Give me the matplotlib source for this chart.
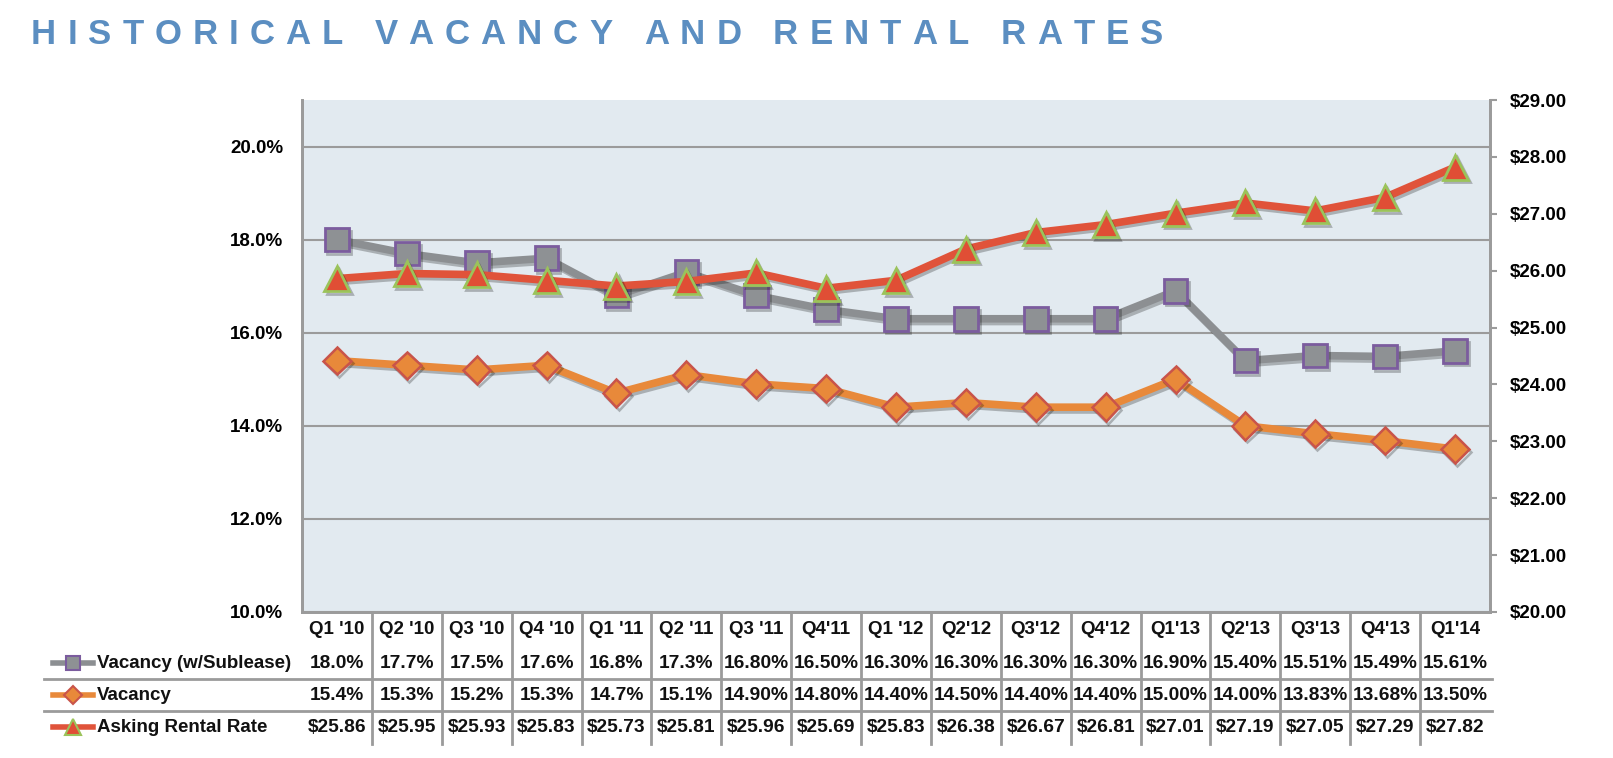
import matplotlib
matplotlib.use("Agg")
import matplotlib.pyplot as plt
import matplotlib.patheffects as pe
from matplotlib.lines import Line2D
from matplotlib import transforms
import numpy as np

plt.rcParams['font.family'] = ['Liberation Sans', 'DejaVu Sans']

trimestres = ["Q1 '10", "Q2 '10", "Q3 '10", "Q4 '10", "Q1 '11", "Q2 '11", "Q3 '11",
              "Q4'11", "Q1 '12", "Q2'12", "Q3'12", "Q4'12", "Q1'13", "Q2'13",
              "Q3'13", "Q4'13", "Q1'14"]

vacancia_sub = [18.0, 17.7, 17.5, 17.6, 16.8, 17.3, 16.80, 16.50, 16.30, 16.30,
                16.30, 16.30, 16.90, 15.40, 15.51, 15.49, 15.61]
vacancia = [15.4, 15.3, 15.2, 15.3, 14.7, 15.1, 14.90, 14.80, 14.40, 14.50,
            14.40, 14.40, 15.00, 14.00, 13.83, 13.68, 13.50]
renta = [25.86, 25.95, 25.93, 25.83, 25.73, 25.81, 25.96, 25.69, 25.83, 26.38,
         26.67, 26.81, 27.01, 27.19, 27.05, 27.29, 27.82]

# textos de la tabla tal como aparecen (formato mixto)
tabla_sub = ["18.0%", "17.7%", "17.5%", "17.6%", "16.8%", "17.3%", "16.80%", "16.50%",
             "16.30%", "16.30%", "16.30%", "16.30%", "16.90%", "15.40%", "15.51%",
             "15.49%", "15.61%"]
tabla_vac = ["15.4%", "15.3%", "15.2%", "15.3%", "14.7%", "15.1%", "14.90%", "14.80%",
             "14.40%", "14.50%", "14.40%", "14.40%", "15.00%", "14.00%", "13.83%",
             "13.68%", "13.50%"]
tabla_renta = ["$25.86", "$25.95", "$25.93", "$25.83", "$25.73", "$25.81", "$25.96",
               "$25.69", "$25.83", "$26.38", "$26.67", "$26.81", "$27.01", "$27.19",
               "$27.05", "$27.29", "$27.82"]

nombres = ["Vacancy (w/Sublease)", "Vacancy", "Asking Rental Rate"]
TITULO = "HISTORICAL VACANCY AND RENTAL RATES"

W, H = 1613, 758
fig = plt.figure(figsize=(W / 100, H / 100), dpi=100)

x0, x1, y_top, y_bot = 302, 1490, 100, 612
ax = fig.add_axes([x0 / W, 1 - y_bot / H, (x1 - x0) / W, (y_bot - y_top) / H])
ax.set_facecolor('#E2EAF0')
ax2 = ax.twinx()

GRIS = '#9B9B9B'
sombra = [pe.SimpleLineShadow(offset=(1.5, -2), alpha=0.25, shadow_color='black'),
          pe.Normal()]

n = len(trimestres)
xs = np.arange(n)

estilos = [
    dict(color='#8C8F92', marker='s', markersize=17, markerfacecolor='#8E9194',
         markeredgecolor='#7B5C9E', markeredgewidth=2, linewidth=5.5),
    dict(color='#E8893A', marker='D', markersize=14, markerfacecolor='#E8893A',
         markeredgecolor='#C9544A', markeredgewidth=1.8, linewidth=5.5),
    dict(color='#E0533A', marker='^', markersize=18, markerfacecolor='#E04E35',
         markeredgecolor='#9BC35A', markeredgewidth=2, linewidth=5.5),
]

ax.plot(xs, vacancia_sub, path_effects=sombra, zorder=3, **estilos[0])
ax.plot(xs, vacancia, path_effects=sombra, zorder=3, **estilos[1])
ax2.plot(xs, renta, path_effects=sombra, zorder=3, **estilos[2])

ax.set_xlim(-0.5, n - 0.5)
ax.set_ylim(10, 21)
ax2.set_ylim(20, 29)

ax.set_yticks(np.arange(10, 21, 2))
ax.set_yticklabels([f"{v:.1f}%" for v in np.arange(10, 21, 2)])
ax.tick_params(axis='y', length=0, pad=13.5, labelsize=13.5)
for lbl in ax.get_yticklabels():
    lbl.set_fontweight('bold')
ax.grid(axis='y', color=GRIS, linewidth=1.5)
ax.set_axisbelow(True)
ax.set_xticks([])

ax2.set_yticks(np.arange(20, 30, 1))
ax2.set_yticklabels([f"${v:.2f}" for v in np.arange(20, 30, 1)])
ax2.tick_params(axis='y', direction='out', length=5, width=1.5, color=GRIS,
                pad=9, labelsize=13.5)
for lbl in ax2.get_yticklabels():
    lbl.set_fontweight('bold')

for a in (ax, ax2):
    a.spines['top'].set_visible(False)
    for s in ('left', 'right', 'bottom'):
        a.spines[s].set_color(GRIS)
        a.spines[s].set_linewidth(2)

# tabla de datos debajo del gráfico
mix = transforms.blended_transform_factory(ax.transData, ax.transAxes)
def fy(py):
    return (y_bot - py) / (y_bot - y_top)

filas_y = [663, 695, 727]
for i, t in enumerate(trimestres):
    ax.text(i, fy(630), t, transform=mix, ha='center', va='center',
            fontsize=13.5, fontweight='bold', color='#111111', clip_on=False)
    for fila, textos in zip(filas_y, [tabla_sub, tabla_vac, tabla_renta]):
        ax.text(i, fy(fila), textos[i], transform=mix, ha='center', va='center',
                fontsize=13.8, fontweight='bold', color='#111111', clip_on=False)

for b in np.arange(0.5, n - 1, 1.0):
    ax.add_line(Line2D([b, b], [0, fy(744)], transform=mix, color=GRIS,
                       linewidth=2, clip_on=False))

for py in (679, 711):
    fig.add_artist(Line2D([44 / W, 1492 / W], [1 - py / H, 1 - py / H],
                          color=GRIS, linewidth=2))

for fila, nombre, est in zip(filas_y, nombres, estilos):
    yy = 1 - fila / H
    fig.add_artist(Line2D([53 / W, 93 / W], [yy, yy], color=est['color'],
                          linewidth=4))
    chico = dict(est)
    chico.pop('linewidth')
    chico['markersize'] = est['markersize'] * 0.62
    chico['markeredgewidth'] = 1.5
    fig.add_artist(Line2D([73 / W], [yy], linestyle='none', **chico))
    fig.text(97 / W, yy, nombre, ha='left', va='center', fontsize=13.5,
             fontweight='bold', color='#111111')

# título con espaciado entre letras: se mide cada letra y se reparte el hueco
rend = fig.canvas.get_renderer()
fs_tit = 25
tit_x0, tit_x1 = 31, 1163
letras = []
for ch in TITULO:
    t = fig.text(0, 1 - 35 / H, ch if ch != ' ' else '', ha='left', va='center',
                 fontsize=fs_tit, fontweight='bold', color='#5B8EC1')
    w = t.get_window_extent(rend).width if ch != ' ' else 0.278 * fs_tit * 100 / 72
    letras.append((t, w))
hueco = (tit_x1 - tit_x0 - sum(w for _, w in letras)) / (len(letras) - 1)
xp = tit_x0
for t, w in letras:
    t.set_x(xp / W)
    xp += w + hueco

fig.savefig("out.png", dpi=100)
